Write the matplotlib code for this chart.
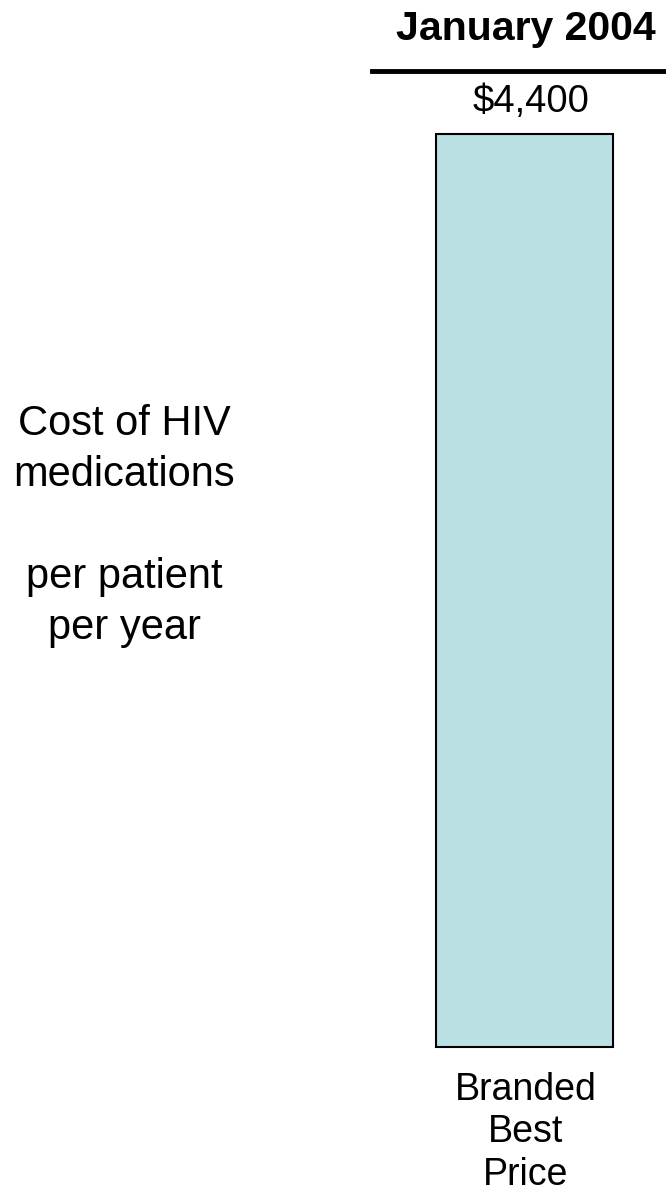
import matplotlib
matplotlib.use("Agg")
import matplotlib.pyplot as plt
from matplotlib.lines import Line2D

plt.rcParams['font.family'] = ['Liberation Sans', 'DejaVu Sans']

# Data
categories = ["Branded\nBest\nPrice"]
costs = [4400]
value_labels = ["$4,400"]
header = "January 2004"
side_lines = ["Cost of HIV", "medications", "", "per patient", "per year"]

W, H = 666, 1191
fig = plt.figure(figsize=(W / 100, H / 100), dpi=100)
fig.patch.set_facecolor("white")

def fx(px):
    return px / W

def fy(py):
    return 1 - py / H

# Axes spanning the bar region; the bar is drawn from the data value
bar_left, bar_right = 436, 613
bar_top, bar_bottom = 134, 1047
ax = fig.add_axes([fx(bar_left), fy(bar_bottom),
                   (bar_right - bar_left) / W, (bar_bottom - bar_top) / H])
ax.bar(range(len(costs)), costs, width=1.0, color="#BBE0E3",
       edgecolor="black", linewidth=1.5)
ax.set_xlim(-0.5, len(costs) - 0.5)
ax.set_ylim(0, max(costs))
ax.axis("off")
for r in ax.patches:
    r.set_clip_on(False)

# Header with rule underneath
fig.text(fx(526), fy(40), header, ha="center", va="baseline",
         fontsize=29.5, fontweight="bold")
fig.add_artist(Line2D([fx(372), fx(666)], [fy(70.5), fy(70.5)],
                      color="black", linewidth=3.5,
                      transform=fig.transFigure))

# Value label above the bar
for i, (v, lab) in enumerate(zip(costs, value_labels)):
    fig.text(fx(531), fy(112), lab, ha="center", va="baseline", fontsize=27.5)

# Category label beneath the bar
for j, line in enumerate(categories[0].split("\n")):
    fig.text(fx(526), fy(1100 + 42.5 * j), line, ha="center",
             va="baseline", fontsize=27)

# Side annotation
for j, line in enumerate(side_lines):
    if line:
        fig.text(fx(124), fy(435 + 51 * j), line, ha="center",
                 va="baseline", fontsize=30)

fig.savefig("out.png", dpi=100, facecolor="white")
